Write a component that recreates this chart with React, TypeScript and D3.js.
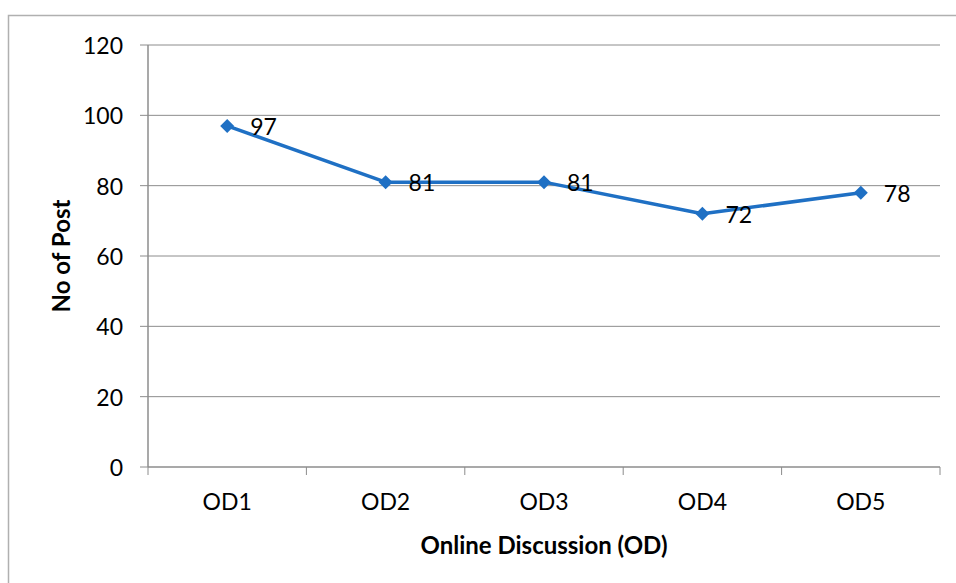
import React from "react";
import * as d3 from "d3";

const categories = ["OD1", "OD2", "OD3", "OD4", "OD5"];
const posts = [97, 81, 81, 72, 78];
const yTicks = [0, 20, 40, 60, 80, 100, 120];
const xTitle = "Online Discussion (OD)";
const yTitle = "No of Post";

const W = 956;
const H = 583;
const left = 148;
const right = 940;
const top = 45;
const bottom = 467;
const FONT = "Lato, 'Open Sans', sans-serif";
const BLUE = "#1f70c4";

export default function App() {
  const x = d3.scaleBand<string>().domain(categories).range([left, right]);
  const y = d3.scaleLinear().domain([0, 120]).range([bottom, top]);
  const line = d3
    .line<number>()
    .x((_, i) => (x(categories[i]) as number) + x.bandwidth() / 2)
    .y((d) => y(d));
  const bounds = [...categories.map((c) => x(c) as number), right];

  return (
    <svg
      width={W}
      height={H}
      style={{ position: "absolute", left: 0, top: 0, background: "#fff" }}
      fontFamily={FONT}
    >
      <rect x={8.5} y={15.5} width={W + 10} height={H + 10} fill="none" stroke="#b0b0b0" strokeWidth={1.5} />
      {yTicks.map((t) => (
        <g key={t}>
          {t > 0 && (
            <line x1={left} x2={right} y1={y(t)} y2={y(t)} stroke="#8c8c8c" strokeWidth={1} />
          )}
          <line x1={left - 8} x2={left} y1={y(t)} y2={y(t)} stroke="#8c8c8c" strokeWidth={1} />
          <text x={left - 25} y={y(t)} textAnchor="end" dominantBaseline="central" fontSize={23} fill="#000">
            {t}
          </text>
        </g>
      ))}
      <line x1={left} x2={left} y1={top} y2={bottom} stroke="#8c8c8c" strokeWidth={1.5} />
      <line x1={left} x2={right} y1={bottom} y2={bottom} stroke="#8c8c8c" strokeWidth={1.5} />
      {bounds.map((b, i) => (
        <line key={i} x1={b} x2={b} y1={bottom} y2={bottom + 8} stroke="#8c8c8c" strokeWidth={1} />
      ))}
      {categories.map((c) => (
        <text
          key={c}
          x={(x(c) as number) + x.bandwidth() / 2}
          y={bottom + 34}
          textAnchor="middle"
          dominantBaseline="central"
          fontSize={23}
          fill="#000"
        >
          {c}
        </text>
      ))}
      <path d={line(posts) || ""} fill="none" stroke={BLUE} strokeWidth={3.5} strokeLinejoin="round" />
      {posts.map((v, i) => {
        const cx = (x(categories[i]) as number) + x.bandwidth() / 2;
        const cy = y(v);
        const s = 7;
        return (
          <g key={i}>
            <path d={`M${cx},${cy - s}L${cx + s},${cy}L${cx},${cy + s}L${cx - s},${cy}Z`} fill={BLUE} />
            <text x={cx + 23} y={cy} dominantBaseline="central" fontSize={23} fill="#000">
              {v}
            </text>
          </g>
        );
      })}
      <text
        x={(left + right) / 2}
        y={544}
        textAnchor="middle"
        dominantBaseline="central"
        fontSize={24}
        fontWeight="bold"
        fill="#000"
      >
        {xTitle}
      </text>
      <text
        transform={`translate(60,${(top + bottom) / 2}) rotate(-90)`}
        textAnchor="middle"
        dominantBaseline="central"
        fontSize={24}
        fontWeight="bold"
        fill="#000"
      >
        {yTitle}
      </text>
    </svg>
  );
}
